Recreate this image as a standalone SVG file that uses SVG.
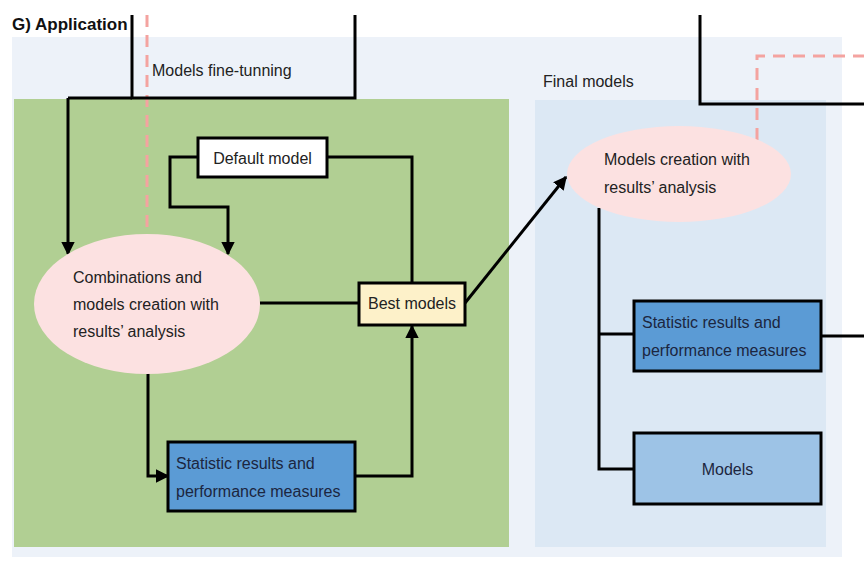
<svg xmlns="http://www.w3.org/2000/svg" width="864" height="562" viewBox="0 0 864 562">
<defs>
<style>
text{font-family:"Liberation Sans",Arial,sans-serif;font-size:16px;fill:#222}
.title{font-weight:bold;font-size:17px;fill:#111}
.t{fill:#1c2640}
.ln{fill:none;stroke:#000;stroke-width:3}
.dash{fill:none;stroke:#f4a3a0;stroke-width:3;stroke-dasharray:12 8}
.box{stroke:#000;stroke-width:3}
</style>
<marker id="ah" viewBox="0 0 10 10" refX="9" refY="5" markerWidth="4.5" markerHeight="4.5" orient="auto-start-reverse" markerUnits="strokeWidth">
<path d="M0,0 L10,5 L0,10 z" fill="#000"/>
</marker>
</defs>
<rect width="864" height="562" fill="#fff"/>
<g id="panels">
<rect x="12" y="37" width="830" height="520" fill="#edf2f9"/>
<rect x="14" y="99" width="495" height="448" fill="#b1cf93"/>
<rect x="535" y="100" width="291" height="447" fill="#dce8f4"/>
<text class="title" x="12" y="30">G) Application</text>
<text x="152" y="76">Models fine-tunning</text>
<text x="543" y="87">Final models</text>
</g>
<g id="connectors">
<path class="dash" d="M147,15 V235"/>
<path class="dash" d="M757,140 V56 H864"/>
<path class="ln" d="M132,15 V98 H355 V15"/>
<path class="ln" d="M700,15 V104 H864"/>
<path class="ln" d="M68,98 H132"/>
<path class="ln" d="M68,98 V254" marker-end="url(#ah)"/>
<path class="ln" d="M198,157 H170 V207 H228 V254" marker-end="url(#ah)"/>
<path class="ln" d="M327,157 H412 V284"/>
<path class="ln" d="M260,303 H359"/>
<path class="ln" d="M465,303 L566,177" marker-end="url(#ah)"/>
<path class="ln" d="M148,372 V476 H168" marker-end="url(#ah)"/>
<path class="ln" d="M355,476 H412 V326" marker-end="url(#ah)"/>
<path class="ln" d="M599,208 V469 H634"/>
<path class="ln" d="M599,334 H634"/>
<path class="ln" d="M821,336 H864"/>
</g>
<g id="combinations">
<ellipse cx="147" cy="304" rx="113" ry="70" fill="#fce1e1"/>
<text x="73" y="283">Combinations and</text>
<text x="73" y="310">models creation with</text>
<text x="73" y="337">results’ analysis</text>
</g>
<g id="default-model">
<rect class="box" x="198" y="138" width="129" height="39" fill="#fff"/>
<text x="262.5" y="164" text-anchor="middle">Default model</text>
</g>
<g id="best-models">
<rect class="box" x="359" y="283" width="106" height="42" fill="#fdf1c9"/>
<text x="412" y="309" text-anchor="middle">Best models</text>
</g>
<g id="stats-left">
<rect class="box" x="168" y="442" width="187" height="69" fill="#5b9bd5"/>
<text class="t" x="176" y="469">Statistic results and</text>
<text class="t" x="176" y="497">performance measures</text>
</g>
<g id="final-creation">
<ellipse cx="679" cy="174" rx="112" ry="48" fill="#fce1e1"/>
<text x="604" y="165">Models creation with</text>
<text x="604" y="193">results’ analysis</text>
</g>
<g id="stats-right">
<rect class="box" x="634" y="301" width="187" height="70" fill="#5b9bd5"/>
<text class="t" x="642" y="328">Statistic results and</text>
<text class="t" x="642" y="356">performance measures</text>
</g>
<g id="models">
<rect class="box" x="634" y="433" width="187" height="71" fill="#9dc3e6"/>
<text class="t" x="727.5" y="475" text-anchor="middle">Models</text>
</g>
</svg>
